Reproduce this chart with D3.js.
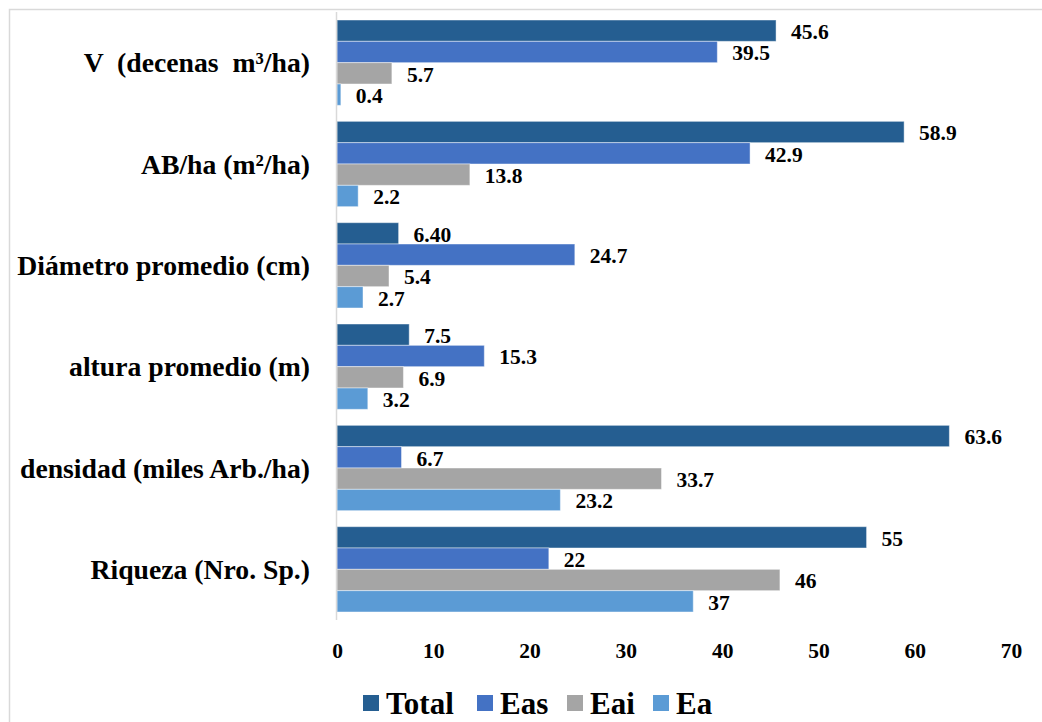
<!DOCTYPE html>
<html>
<head>
<meta charset="utf-8">
<script src="https://cdn.jsdelivr.net/npm/d3@7"></script>
<style>
  html, body { margin: 0; padding: 0; background: #fff; }
  svg { display: block; }
  svg text { font-family: "Liberation Serif", "Times New Roman", Times, "DejaVu Serif", serif; font-weight: bold; }
</style>
</head>
<body>
<svg id="chart" width="1042" height="722"></svg>
<script>
// Categories (top to bottom) and the four series
const categories = [
  "V  (decenas  m³/ha)",
  "AB/ha (m²/ha)",
  "Diámetro promedio (cm)",
  "altura promedio (m)",
  "densidad (miles Arb./ha)",
  "Riqueza (Nro. Sp.)"
];
const seriesNames = ["Total", "Eas", "Eai", "Ea"];
const seriesColors = ["#255E91", "#4472C4", "#A5A5A5", "#5B9BD5"];

// Values kept as written in the labels
const totalValues = ["45.6", "58.9", "6.40", "7.5", "63.6", "55"];
const easValues   = ["39.5", "42.9", "24.7", "15.3", "6.7", "22"];
const eaiValues   = ["5.7", "13.8", "5.4", "6.9", "33.7", "46"];
const eaValues    = ["0.4", "2.2", "2.7", "3.2", "23.2", "37"];

const xTicks = [0, 10, 20, 30, 40, 50, 60, 70];

const seriesValues = [totalValues, easValues, eaiValues, eaValues];
const FONT = "'Liberation Serif', 'Times New Roman', Times, 'DejaVu Serif', serif";

const svg = d3.select("#chart");

// Outer frame
svg.append("rect")
  .attr("x", 9.5).attr("y", 9.5)
  .attr("width", 1060).attr("height", 740)
  .attr("fill", "none")
  .attr("stroke", "#d9d9d9")
  .attr("stroke-width", 1.5);

const x = d3.scaleLinear().domain([0, 70]).range([337, 1011]);
const y = d3.scaleBand().domain(categories).range([12, 620])
  .paddingInner(0.158).paddingOuter(0.079);
const ySub = d3.scaleBand().domain(seriesNames).range([0, y.bandwidth()]);

// Bars and value labels
const groups = svg.append("g").selectAll("g")
  .data(categories)
  .join("g")
  .attr("transform", c => `translate(0,${y(c)})`);

groups.each(function(c, ci) {
  const g = d3.select(this);
  const rows = seriesNames.map((s, si) => ({ s, si, text: seriesValues[si][ci], v: +seriesValues[si][ci] }));
  g.selectAll("rect")
    .data(rows)
    .join("rect")
    .attr("x", x(0))
    .attr("y", d => ySub(d.s))
    .attr("width", d => x(d.v) - x(0))
    .attr("height", ySub.bandwidth())
    .attr("fill", d => seriesColors[d.si])
    .attr("stroke", "rgba(255,255,255,0.45)")
    .attr("stroke-width", 1);
  g.selectAll("text")
    .data(rows)
    .join("text")
    .attr("x", d => x(d.v) + 15)
    .attr("y", d => ySub(d.s) + ySub.bandwidth() / 2 + 1.5)
    .attr("dominant-baseline", "central")
    .attr("font-family", FONT)
    .attr("font-weight", "bold")
    .attr("font-size", 21.5)
    .attr("fill", "#000")
    .text(d => d.text);
});

// Vertical category axis line
svg.append("line")
  .attr("x1", 336.5).attr("x2", 336.5)
  .attr("y1", 12).attr("y2", 620)
  .attr("stroke", "#d9d9d9")
  .attr("stroke-width", 1.5);

// Category labels
svg.append("g").selectAll("text")
  .data(categories)
  .join("text")
  .attr("x", 310)
  .attr("y", c => y(c) + y.bandwidth() / 2)
  .attr("dominant-baseline", "central")
  .attr("text-anchor", "end")
  .attr("font-family", FONT)
  .attr("font-weight", "bold")
  .attr("font-size", 27.7)
  .style("white-space", "pre")
  .attr("fill", "#000")
  .text(c => c);

// Value axis tick labels
const xAxis = d3.axisBottom(x).tickValues(xTicks).tickSize(0).tickPadding(0).tickFormat(d3.format("d"));
const axisG = svg.append("g").attr("transform", "translate(0,640)").call(xAxis);
axisG.attr("font-family", FONT).attr("font-size", 21);
axisG.select(".domain").remove();
axisG.selectAll("text")
  .attr("font-family", FONT)
  .attr("font-weight", "bold")
  .attr("font-size", 21.5)
  .attr("fill", "#000")
  .attr("dy", "0.85em");

// Legend
const legend = svg.append("g").attr("transform", "translate(363,703)");
const legendX = [0, 114, 204, 290];
seriesNames.forEach((s, i) => {
  const item = legend.append("g").attr("transform", `translate(${legendX[i]},0)`);
  item.append("rect")
    .attr("x", 0).attr("y", -8)
    .attr("width", 16).attr("height", 16)
    .attr("fill", seriesColors[i]);
  item.append("text")
    .attr("x", 23).attr("y", 0)
    .attr("dominant-baseline", "central")
    .attr("font-family", FONT)
    .attr("font-weight", "bold")
    .attr("font-size", 31)
    .attr("fill", "#000")
    .text(s);
});
</script>
</body>
</html>
